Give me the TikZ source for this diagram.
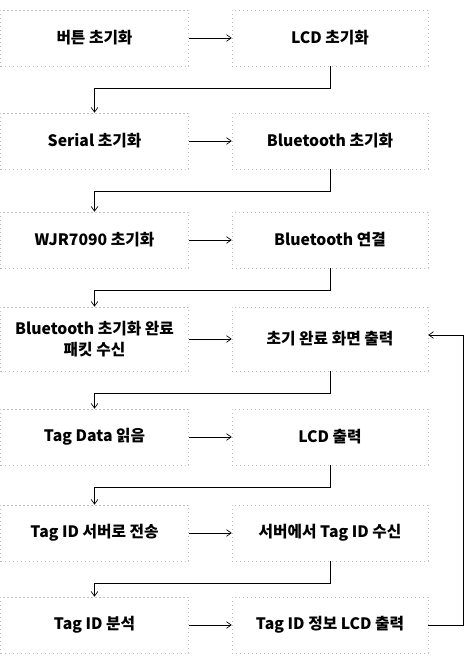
\documentclass[tikz,border=0pt]{standalone}
\usepackage{fontspec}
\setmainfont{Noto Sans CJK KR}
\usepackage{tikz}
\usetikzlibrary{arrows.meta,positioning}
\tikzset{
  stepbox/.style={draw=black!25,dash pattern=on 1pt off 2pt,line width=0.4pt,
    minimum height=42pt,inner sep=0pt,align=center,font=\fontsize{11.8}{16}\selectfont\bfseries},
  lbox/.style={stepbox,minimum width=141pt},
  rbox/.style={stepbox,minimum width=147pt},
  flow/.style={line width=0.5pt,-{Straight Barb[length=3.5pt,width=5pt]}}
}
\begin{document}
\begin{tikzpicture}[x=0.75pt,y=-0.75pt]
  \useasboundingbox (0,0) rectangle (469,661);
  % left column / right column
  \node[lbox] (btn)  at (94.5,38)  {버튼 초기화};
  \node[rbox] (lcd)  at (330,38)   {LCD 초기화};
  \node[lbox] (ser)  at (94.5,141) {Serial 초기화};
  \node[rbox] (bt)   at (330,141)  {Bluetooth 초기화};
  \node[lbox] (wjr)  at (94.5,240) {WJR7090 초기화};
  \node[rbox] (btc)  at (330,240)  {Bluetooth 연결};
  \node[lbox,minimum height=48pt] (pkt) at (94.5,339) {Bluetooth 초기화 완료\\패킷 수신};
  \node[rbox,minimum height=48pt] (done) at (330,339) {초기 완료 화면 출력};
  \node[lbox] (tag)  at (94.5,437) {Tag Data 읽음};
  \node[rbox] (lout) at (330,437)  {LCD 출력};
  \node[lbox] (send) at (94.5,533) {Tag ID 서버로 전송};
  \node[rbox] (recv) at (330,533)  {서버에서 Tag ID 수신};
  \node[lbox] (anal) at (94.5,625) {Tag ID 분석};
  \node[rbox] (info) at (330,625)  {Tag ID 정보 LCD 출력};
  \foreach \a/\b in {btn/lcd,ser/bt,wjr/btc,pkt/done,tag/lout,send/recv,anal/info}
    \draw[flow] (\a) -- (\b);
  \foreach \a/\b in {lcd/ser,bt/wjr,btc/pkt,done/tag,lout/send,recv/anal}
    \draw[flow] (\a.south) -- ++(0,22) -| (\b.north);
  \draw[flow] (info.east) -- ++(35,0) |- ([yshift=3pt]done.east);
\end{tikzpicture}
\end{document}
